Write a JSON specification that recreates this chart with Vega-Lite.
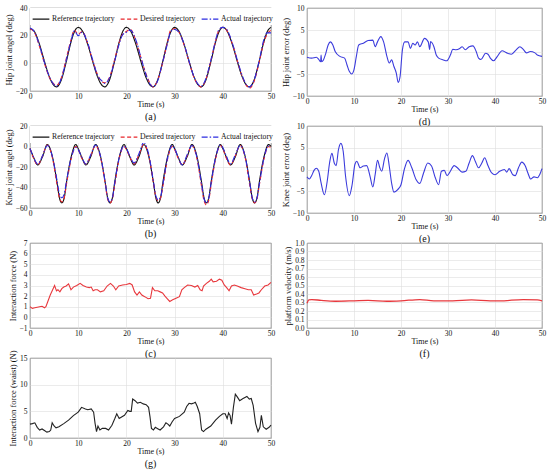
{
  "$schema": "https://vega.github.io/schema/vega-lite/v6.json",
  "padding": {"left": 3, "top": 3, "right": 2, "bottom": 0},
  "datasets": {
    "hip": [
      {"t":0,"r":25,"d":25,"a":25.5},{"t":0.8,"r":23.5,"d":23,"a":23.5},{"t":2,"r":13.4,"d":12,"a":12.5},{"t":3,"r":1.4,"d":0,"a":0.5},{"t":4,"r":-9.6,"d":-10,"a":-9.5},{"t":5,"r":-16.1,"d":-15,"a":-15.5},{"t":5.5,"r":-17,"d":-16,"a":-16.5},{"t":6.5,"r":-12,"d":-10.5,"a":-11},{"t":7.5,"r":0.8,"d":3,"a":2},{"t":8.5,"r":15.3,"d":17,"a":16},{"t":9.2,"r":22.7,"d":24,"a":23.5},
      {"t":10,"r":26,"d":21,"a":20},{"t":10.8,"r":23.8,"d":23,"a":22.5},{"t":12,"r":13.4,"d":14,"a":14.5},{"t":13,"r":1.4,"d":2,"a":2.5},{"t":14,"r":-9.6,"d":-8,"a":-8.5},{"t":15,"r":-16.1,"d":-13.5,"a":-13},{"t":15.5,"r":-17,"d":-14,"a":-14.5},{"t":16.5,"r":-12,"d":-10,"a":-10.5},{"t":17.5,"r":0.8,"d":2,"a":1},{"t":18.5,"r":15.3,"d":15,"a":14},{"t":19.2,"r":22.7,"d":21,"a":20.5},
      {"t":20,"r":26,"d":23,"a":22.5},{"t":20.8,"r":23.8,"d":24.5,"a":24},{"t":22,"r":13.4,"d":16,"a":16.5},{"t":23,"r":1.4,"d":4,"a":4.5},{"t":24,"r":-9.6,"d":-7,"a":-7.5},{"t":25,"r":-16.1,"d":-15,"a":-15.5},{"t":25.5,"r":-17,"d":-17,"a":-17},{"t":26.5,"r":-12,"d":-12,"a":-12.5},{"t":27.5,"r":0.8,"d":0,"a":0.5},{"t":28.5,"r":15.3,"d":15,"a":14},{"t":29.2,"r":22.7,"d":24,"a":23},
      {"t":30,"r":26,"d":25,"a":24.5},{"t":30.8,"r":23.8,"d":23,"a":23},{"t":32,"r":13.4,"d":13,"a":13.5},{"t":33,"r":1.4,"d":1,"a":1.5},{"t":34,"r":-9.6,"d":-10,"a":-9.5},{"t":35,"r":-16.1,"d":-16,"a":-15.5},{"t":35.5,"r":-17,"d":-17,"a":-16.5},{"t":36.5,"r":-12,"d":-11.5,"a":-11},{"t":37.5,"r":0.8,"d":1.5,"a":2},{"t":38.5,"r":15.3,"d":16,"a":16.5},{"t":39.2,"r":22.7,"d":24,"a":24.5},
      {"t":40,"r":26,"d":26,"a":26},{"t":40.8,"r":23.8,"d":24,"a":24.5},{"t":42,"r":13.4,"d":14,"a":14.5},{"t":43,"r":1.4,"d":2,"a":2.5},{"t":44,"r":-9.6,"d":-9,"a":-8.5},{"t":45,"r":-16.1,"d":-16.5,"a":-16},{"t":45.5,"r":-17,"d":-18,"a":-17},{"t":46.5,"r":-12,"d":-13,"a":-12},{"t":47.5,"r":0.8,"d":0,"a":1},{"t":48.5,"r":15.3,"d":15,"a":17},{"t":49.2,"r":22.7,"d":21,"a":22},{"t":50,"r":26,"d":24,"a":22}
    ],
    "knee": [
      {"t":0,"r":-2,"d":-2,"a":-2},{"t":0.7,"r":-10,"d":-11,"a":-10},{"t":1.6,"r":-18,"d":-18,"a":-17},{"t":2.6,"r":-10,"d":-9,"a":-9},{"t":3.6,"r":2,"d":1.5,"a":1},{"t":4.6,"r":-9,"d":-10,"a":-9},{"t":5.6,"r":-35,"d":-37,"a":-33},{"t":6.1,"r":-50,"d":-50,"a":-46},{"t":6.6,"r":-55,"d":-54,"a":-50},{"t":7.1,"r":-50,"d":-50,"a":-46},{"t":7.6,"r":-34,"d":-36,"a":-33},{"t":8.6,"r":-9,"d":-11,"a":-10},{"t":9.5,"r":2,"d":0,"a":-1},
      {"t":10,"r":-2,"d":-3,"a":-3},{"t":10.7,"r":-10,"d":-11,"a":-10},{"t":11.6,"r":-18,"d":-17,"a":-17},{"t":12.6,"r":-10,"d":-9,"a":-8},{"t":13.6,"r":2,"d":1,"a":1.5},{"t":14.6,"r":-9,"d":-10,"a":-9},{"t":15.6,"r":-35,"d":-36,"a":-35},{"t":16.1,"r":-50,"d":-51,"a":-50},{"t":16.6,"r":-55,"d":-55,"a":-54},{"t":17.1,"r":-50,"d":-51,"a":-50},{"t":17.6,"r":-34,"d":-37,"a":-35},{"t":18.6,"r":-9,"d":-10,"a":-9},{"t":19.5,"r":2,"d":0,"a":0.5},
      {"t":20,"r":-2,"d":-3,"a":-2},{"t":20.7,"r":-10,"d":-10,"a":-9},{"t":21.6,"r":-18,"d":-17,"a":-16},{"t":22.6,"r":-10,"d":-8,"a":-7},{"t":23.6,"r":2,"d":2,"a":4},{"t":24.6,"r":-9,"d":-8,"a":-7},{"t":25.6,"r":-35,"d":-35,"a":-34},{"t":26.1,"r":-50,"d":-49,"a":-48},{"t":26.6,"r":-55,"d":-53,"a":-52},{"t":27.1,"r":-50,"d":-50,"a":-49},{"t":27.6,"r":-34,"d":-38,"a":-36},{"t":28.6,"r":-9,"d":-11,"a":-10},{"t":29.5,"r":2,"d":0,"a":1},
      {"t":30,"r":-2,"d":-3,"a":-2},{"t":30.7,"r":-10,"d":-11,"a":-10},{"t":31.6,"r":-18,"d":-18,"a":-18},{"t":32.6,"r":-10,"d":-9,"a":-8},{"t":33.6,"r":2,"d":1,"a":1},{"t":34.6,"r":-9,"d":-11,"a":-10},{"t":35.6,"r":-35,"d":-39,"a":-37},{"t":36.1,"r":-50,"d":-53,"a":-51},{"t":36.6,"r":-55,"d":-57,"a":-55},{"t":37.1,"r":-50,"d":-52,"a":-50},{"t":37.6,"r":-34,"d":-37,"a":-35},{"t":38.6,"r":-9,"d":-10,"a":-9},{"t":39.5,"r":2,"d":1,"a":1.5},
      {"t":40,"r":-2,"d":-2,"a":-1},{"t":40.7,"r":-10,"d":-11,"a":-9},{"t":41.6,"r":-18,"d":-18,"a":-17},{"t":42.6,"r":-10,"d":-9,"a":-8},{"t":43.6,"r":2,"d":1,"a":1},{"t":44.6,"r":-9,"d":-10,"a":-9},{"t":45.6,"r":-35,"d":-38,"a":-36},{"t":46.1,"r":-50,"d":-51,"a":-50},{"t":46.6,"r":-55,"d":-55,"a":-54},{"t":47.1,"r":-50,"d":-51,"a":-50},{"t":47.6,"r":-34,"d":-37,"a":-36},{"t":48.6,"r":-9,"d":-11,"a":-10},{"t":49.5,"r":2,"d":0,"a":0.5},{"t":50,"r":0,"d":-1,"a":0}
    ],
    "force": [
      {"t":0,"v":1.0},{"t":0.5,"v":0.85},{"t":1,"v":0.9},{"t":2,"v":1.0},{"t":2.5,"v":1.05},{"t":3,"v":0.9},{"t":3.3,"v":1.0},{"t":3.7,"v":1.5},{"t":4.2,"v":2.1},{"t":4.7,"v":2.6},{"t":5.1,"v":3.0},{"t":5.5,"v":2.5},{"t":5.8,"v":2.6},{"t":6.2,"v":2.4},{"t":6.6,"v":2.7},{"t":7,"v":2.85},{"t":7.5,"v":2.95},{"t":8,"v":3.15},{"t":8.5,"v":2.6},{"t":9,"v":2.85},{"t":9.7,"v":3.0},{"t":10.4,"v":3.2},{"t":11,"v":3.0},{"t":11.7,"v":2.85},{"t":12.3,"v":2.8},{"t":12.7,"v":2.85},{"t":13.1,"v":2.5},{"t":13.5,"v":2.6},{"t":14,"v":2.6},{"t":14.6,"v":2.4},{"t":15.3,"v":2.5},{"t":16,"v":2.95},{"t":16.7,"v":3.2},{"t":17.3,"v":2.95},{"t":17.8,"v":2.6},{"t":18.4,"v":2.95},{"t":19.2,"v":3.05},{"t":20,"v":3.1},{"t":20.7,"v":3.2},{"t":21.2,"v":3.05},{"t":21.7,"v":2.4},{"t":22.2,"v":2.1},{"t":22.7,"v":2.4},{"t":23.2,"v":2.1},{"t":23.8,"v":1.95},{"t":24.5,"v":1.75},{"t":25,"v":1.8},{"t":25.4,"v":2.8},{"t":25.9,"v":2.5},{"t":26.5,"v":2.5},{"t":27,"v":2.4},{"t":27.5,"v":2.3},{"t":28,"v":2.0},{"t":28.5,"v":1.75},{"t":29,"v":1.5},{"t":29.6,"v":1.65},{"t":30.3,"v":1.8},{"t":31,"v":1.95},{"t":31.5,"v":2.6},{"t":32,"v":2.8},{"t":32.7,"v":3.05},{"t":33.5,"v":3.0},{"t":34.2,"v":2.85},{"t":34.8,"v":3.0},{"t":35.3,"v":2.6},{"t":35.7,"v":2.5},{"t":36,"v":2.95},{"t":36.6,"v":3.2},{"t":37.2,"v":3.4},{"t":37.6,"v":3.6},{"t":38,"v":3.35},{"t":38.7,"v":3.4},{"t":39.3,"v":3.6},{"t":39.8,"v":3.5},{"t":40.3,"v":3.05},{"t":40.8,"v":2.8},{"t":41.3,"v":2.5},{"t":41.8,"v":2.95},{"t":42.4,"v":3.05},{"t":43,"v":2.95},{"t":43.8,"v":2.8},{"t":44.6,"v":2.7},{"t":45.3,"v":2.6},{"t":45.9,"v":2.6},{"t":46.4,"v":2.1},{"t":47,"v":2.2},{"t":47.5,"v":2.3},{"t":48,"v":2.6},{"t":48.7,"v":2.95},{"t":49.4,"v":3.05},{"t":50,"v":3.3}
    ],
    "hiperr": [
      {"t":0,"v":-1.2},{"t":1,"v":-1.4},{"t":2,"v":-1.2},{"t":2.5,"v":-1.7},{"t":2.9,"v":-2.2},{"t":3,"v":-0.7},{"t":3.1,"v":-2.2},{"t":3.5,"v":-1.8},{"t":4,"v":-0.3},{"t":4.5,"v":1.6},{"t":5,"v":2.3},{"t":5.5,"v":1.6},{"t":6,"v":0.1},{"t":7,"v":-1.0},{"t":8,"v":-1.4},{"t":8.5,"v":-2.9},{"t":9,"v":-4.4},{"t":9.5,"v":-5.0},{"t":10,"v":-4.0},{"t":10.5,"v":-1.0},{"t":11,"v":1.6},{"t":12,"v":2.0},{"t":13,"v":2.6},{"t":14,"v":2.7},{"t":14.5,"v":1.2},{"t":15,"v":2.3},{"t":15.7,"v":3.5},{"t":16.3,"v":2.3},{"t":17,"v":-1.0},{"t":17.5,"v":-2.5},{"t":18,"v":-1.8},{"t":18.5,"v":-3.3},{"t":19,"v":-4.8},{"t":19.4,"v":-6.9},{"t":19.8,"v":-5.6},{"t":20.3,"v":0.5},{"t":20.8,"v":2.3},{"t":21.5,"v":2.3},{"t":22,"v":0.8},{"t":22.5,"v":2.0},{"t":23,"v":1.6},{"t":23.5,"v":2.3},{"t":24,"v":1.2},{"t":25,"v":3.1},{"t":25.8,"v":2.3},{"t":26.1,"v":0.6},{"t":26.3,"v":2.4},{"t":26.6,"v":2.1},{"t":27,"v":1.2},{"t":27.5,"v":-0.7},{"t":28,"v":-1.4},{"t":29,"v":-1.8},{"t":29.7,"v":-2.0},{"t":30.5,"v":-0.7},{"t":31,"v":0.6},{"t":31.7,"v":0.5},{"t":32.5,"v":0.8},{"t":33,"v":1.2},{"t":33.7,"v":0.5},{"t":34.5,"v":1.2},{"t":35.3,"v":1.4},{"t":36,"v":0.1},{"t":36.5,"v":-1.4},{"t":37,"v":-1.7},{"t":38,"v":-0.3},{"t":38.5,"v":-0.5},{"t":39,"v":-1.4},{"t":39.7,"v":-2.0},{"t":40.5,"v":-1.0},{"t":41.5,"v":0.3},{"t":42.5,"v":-0.2},{"t":43.5,"v":-0.5},{"t":44.5,"v":0.5},{"t":45.3,"v":1.2},{"t":46,"v":0.6},{"t":46.7,"v":-0.2},{"t":47.5,"v":0.1},{"t":48.5,"v":-0.2},{"t":49,"v":-0.7},{"t":50,"v":-1.0}
    ],
    "kneeerr": [
      {"t":0,"v":-1.7},{"t":0.5,"v":-2.2},{"t":1,"v":-1.4},{"t":1.5,"v":-0.2},{"t":2,"v":0.3},{"t":2.5,"v":-0.4},{"t":3,"v":-3.1},{"t":3.7,"v":-5.8},{"t":4.3,"v":-2.7},{"t":4.8,"v":1.5},{"t":5.3,"v":3.7},{"t":5.8,"v":1.5},{"t":6.2,"v":0.9},{"t":6.7,"v":4.6},{"t":7.2,"v":6.0},{"t":7.7,"v":4.2},{"t":8.2,"v":-1.5},{"t":9,"v":-6.0},{"t":9.6,"v":-3.5},{"t":10.2,"v":1.2},{"t":10.6,"v":1.9},{"t":11.3,"v":0.4},{"t":12,"v":0.8},{"t":12.7,"v":0.9},{"t":13.4,"v":-1.5},{"t":14,"v":-4.0},{"t":14.5,"v":-1.2},{"t":15,"v":2.1},{"t":15.5,"v":0.4},{"t":15.9,"v":-0.4},{"t":16.5,"v":2.5},{"t":17,"v":3.8},{"t":17.5,"v":0.8},{"t":18,"v":-3.1},{"t":18.5,"v":-5.2},{"t":19.3,"v":-4.6},{"t":20,"v":-3.5},{"t":20.7,"v":0},{"t":21.5,"v":2.1},{"t":22.3,"v":0.4},{"t":23.2,"v":-2.3},{"t":24,"v":-3.2},{"t":24.8,"v":-0.8},{"t":25.7,"v":1.5},{"t":26.5,"v":0.8},{"t":27.3,"v":-1.9},{"t":28,"v":-3.5},{"t":28.6,"v":-0.4},{"t":29.2,"v":-0.2},{"t":29.8,"v":-1.4},{"t":30.5,"v":-0.4},{"t":31.3,"v":0.9},{"t":32,"v":0.4},{"t":33,"v":-0.6},{"t":33.8,"v":-0.4},{"t":34.5,"v":1.5},{"t":35.2,"v":3.2},{"t":35.8,"v":1.9},{"t":36.5,"v":0.4},{"t":37.2,"v":1.5},{"t":37.8,"v":2.7},{"t":38.5,"v":0.9},{"t":39.3,"v":-0.8},{"t":40,"v":-1.2},{"t":41,"v":-0.4},{"t":42,"v":0},{"t":42.5,"v":-0.6},{"t":43,"v":0.2},{"t":43.8,"v":-1.2},{"t":44.3,"v":-1.4},{"t":45,"v":0.4},{"t":45.7,"v":1.7},{"t":46.4,"v":0.9},{"t":47,"v":-0.8},{"t":47.6,"v":-2.2},{"t":48.3,"v":-1.7},{"t":49,"v":-1.9},{"t":49.5,"v":-1.2},{"t":50,"v":0.2}
    ],
    "vel": [
      {"t":0,"v":0.29},{"t":0.4,"v":0.33},{"t":1,"v":0.335},{"t":3,"v":0.325},{"t":6,"v":0.315},{"t":10,"v":0.32},{"t":13,"v":0.325},{"t":17,"v":0.315},{"t":20,"v":0.32},{"t":24,"v":0.335},{"t":27,"v":0.32},{"t":31,"v":0.32},{"t":35,"v":0.33},{"t":39,"v":0.32},{"t":41,"v":0.32},{"t":46,"v":0.335},{"t":49,"v":0.33},{"t":50,"v":0.32}
    ],
    "waist": [
      {"t":0,"v":2.6},{"t":0.5,"v":2.7},{"t":1,"v":2.85},{"t":1.5,"v":2.0},{"t":2,"v":1.5},{"t":2.5,"v":1.7},{"t":3,"v":1.4},{"t":3.5,"v":1.1},{"t":4,"v":1.2},{"t":4.3,"v":1.5},{"t":4.6,"v":2.85},{"t":5,"v":2.25},{"t":5.4,"v":1.9},{"t":6,"v":2.1},{"t":7,"v":2.7},{"t":8,"v":3.35},{"t":9,"v":4.2},{"t":10,"v":4.85},{"t":10.7,"v":5.75},{"t":11.5,"v":5.45},{"t":12,"v":5.3},{"t":12.7,"v":5.45},{"t":13.2,"v":4.85},{"t":13.5,"v":2.75},{"t":13.8,"v":1.2},{"t":14.1,"v":2.25},{"t":14.5,"v":1.5},{"t":15,"v":1.8},{"t":15.7,"v":1.8},{"t":16.3,"v":1.5},{"t":17,"v":2.4},{"t":17.6,"v":3.65},{"t":18,"v":4.55},{"t":18.5,"v":3.65},{"t":19,"v":3.95},{"t":19.6,"v":4.25},{"t":20.3,"v":5.15},{"t":20.7,"v":5.0},{"t":21,"v":5.0},{"t":21.3,"v":7.3},{"t":21.8,"v":7.0},{"t":22.3,"v":6.55},{"t":22.9,"v":6.7},{"t":23.5,"v":6.4},{"t":24.1,"v":6.25},{"t":24.6,"v":5.75},{"t":24.9,"v":3.95},{"t":25.2,"v":1.8},{"t":25.6,"v":1.5},{"t":26,"v":2.0},{"t":26.5,"v":1.75},{"t":27,"v":1.5},{"t":27.7,"v":2.1},{"t":28.2,"v":2.85},{"t":28.6,"v":2.6},{"t":29,"v":2.25},{"t":29.5,"v":3.05},{"t":30,"v":3.65},{"t":31,"v":4.05},{"t":32,"v":4.85},{"t":32.5,"v":5.9},{"t":33,"v":6.5},{"t":33.5,"v":6.4},{"t":34,"v":6.55},{"t":34.3,"v":6.7},{"t":34.7,"v":5.9},{"t":35.2,"v":4.55},{"t":35.6,"v":1.5},{"t":36,"v":1.2},{"t":36.5,"v":1.65},{"t":37.5,"v":2.25},{"t":38.5,"v":3.35},{"t":39.3,"v":4.05},{"t":40,"v":4.55},{"t":40.5,"v":4.55},{"t":40.9,"v":3.65},{"t":41.2,"v":4.7},{"t":41.5,"v":4.25},{"t":41.8,"v":2.6},{"t":42.2,"v":5.75},{"t":42.6,"v":8.2},{"t":43,"v":7.7},{"t":43.5,"v":7.0},{"t":44.2,"v":7.4},{"t":45,"v":7.8},{"t":45.5,"v":7.3},{"t":45.9,"v":7.4},{"t":46.3,"v":6.1},{"t":46.8,"v":2.75},{"t":47.3,"v":1.2},{"t":47.7,"v":2.0},{"t":48,"v":4.25},{"t":48.4,"v":2.1},{"t":49,"v":1.65},{"t":49.6,"v":2.0},{"t":50,"v":2.4}
    ]
  },
  "columns": 2,
  "bounds": "flush",
  "spacing": {"row": 30, "column": 36},
  "concat": [
    {
      "width": 241, "height": 83,
      "data": {"name": "hip"},
      "title": {"text": "(a)"},
      "transform": [{"fold": ["r", "d", "a"], "as": ["k", "v"]}],
      "mark": {"type": "line", "interpolate": "monotone", "strokeWidth": 1.1},
      "encoding": {
        "x": {"field": "t", "type": "quantitative", "scale": {"domain": [0, 50]}, "axis": {"title": "Time (s)", "values": [0, 10, 20, 30, 40, 50]}},
        "y": {"field": "v", "type": "quantitative", "scale": {"domain": [-20, 40]}, "axis": {"title": "Hip joint angel (deg)", "values": [-20, 0, 20, 40]}},
        "color": {"field": "k", "type": "nominal", "scale": {"domain": ["r", "d", "a"], "range": ["#111111", "#e8262b", "#2c2ce0"]},
          "legend": {"labelExpr": "datum.value == 'r' ? 'Reference trajectory' : datum.value == 'd' ? 'Desired trajectory' : 'Actual trajectory'"}},
        "strokeDash": {"field": "k", "type": "nominal", "scale": {"domain": ["r", "d", "a"], "range": [[1, 0], [4, 2.5], [6, 2, 1.5, 2]]},
          "legend": {"labelExpr": "datum.value == 'r' ? 'Reference trajectory' : datum.value == 'd' ? 'Desired trajectory' : 'Actual trajectory'"}}
      }
    },
    {
      "width": 235, "height": 88,
      "data": {"name": "hiperr"},
      "title": {"text": "(d)"},
      "mark": {"type": "line", "color": "#3b3bdc", "strokeWidth": 1.1, "interpolate": "monotone"},
      "encoding": {
        "x": {"field": "t", "type": "quantitative", "scale": {"domain": [0, 50]}, "axis": {"title": "Time (s)", "values": [0, 10, 20, 30, 40, 50]}},
        "y": {"field": "v", "type": "quantitative", "scale": {"domain": [-10, 10]}, "axis": {"title": "Hip joint error (deg)", "values": [-10, -5, 0, 5, 10]}}
      }
    },
    {
      "width": 241, "height": 82,
      "data": {"name": "knee"},
      "title": {"text": "(b)"},
      "transform": [{"fold": ["r", "d", "a"], "as": ["k", "v"]}],
      "mark": {"type": "line", "interpolate": "monotone", "strokeWidth": 1.1},
      "encoding": {
        "x": {"field": "t", "type": "quantitative", "scale": {"domain": [0, 50]}, "axis": {"title": "Time (s)", "values": [0, 10, 20, 30, 40, 50]}},
        "y": {"field": "v", "type": "quantitative", "scale": {"domain": [-60, 20]}, "axis": {"title": "Knee joint angel (deg)", "values": [-60, -40, -20, 0, 20]}},
        "color": {"field": "k", "type": "nominal", "scale": {"domain": ["r", "d", "a"], "range": ["#111111", "#e8262b", "#2c2ce0"]},
          "legend": {"labelExpr": "datum.value == 'r' ? 'Reference trajectory' : datum.value == 'd' ? 'Desired trajectory' : 'Actual trajectory'"}},
        "strokeDash": {"field": "k", "type": "nominal", "scale": {"domain": ["r", "d", "a"], "range": [[1, 0], [4, 2.5], [6, 2, 1.5, 2]]},
          "legend": {"labelExpr": "datum.value == 'r' ? 'Reference trajectory' : datum.value == 'd' ? 'Desired trajectory' : 'Actual trajectory'"}}
      }
    },
    {
      "width": 235, "height": 87,
      "data": {"name": "kneeerr"},
      "title": {"text": "(e)"},
      "mark": {"type": "line", "color": "#3b3bdc", "strokeWidth": 1.1, "interpolate": "monotone"},
      "encoding": {
        "x": {"field": "t", "type": "quantitative", "scale": {"domain": [0, 50]}, "axis": {"title": "Time (s)", "values": [0, 10, 20, 30, 40, 50]}},
        "y": {"field": "v", "type": "quantitative", "scale": {"domain": [-10, 10]}, "axis": {"title": "Knee joint error (deg)", "values": [-10, -5, 0, 5, 10]}}
      }
    },
    {
      "width": 241, "height": 85,
      "data": {"name": "force"},
      "title": {"text": "(c)"},
      "mark": {"type": "line", "color": "#e8383d", "strokeWidth": 1.1},
      "encoding": {
        "x": {"field": "t", "type": "quantitative", "scale": {"domain": [0, 50]}, "axis": {"title": "Time (s)", "values": [0, 10, 20, 30, 40, 50]}},
        "y": {"field": "v", "type": "quantitative", "scale": {"domain": [-1, 7]}, "axis": {"title": "Interaction force (N)", "values": [-1, 0, 1, 2, 3, 4, 5, 6, 7]}}
      }
    },
    {
      "width": 235, "height": 85,
      "data": {"name": "vel"},
      "title": {"text": "(f)"},
      "mark": {"type": "line", "color": "#e8383d", "strokeWidth": 1.3, "interpolate": "monotone"},
      "encoding": {
        "x": {"field": "t", "type": "quantitative", "scale": {"domain": [0, 50]}, "axis": {"title": "Time (s)", "values": [0, 10, 20, 30, 40, 50]}},
        "y": {"field": "v", "type": "quantitative", "scale": {"domain": [0, 1]}, "axis": {"title": "platform velocity (m/s)", "values": [0, 0.1, 0.2, 0.3, 0.4, 0.5, 0.6, 0.7, 0.8, 0.9, 1], "format": ".1f"}}
      }
    },
    {
      "width": 241, "height": 80,
      "data": {"name": "waist"},
      "title": {"text": "(g)"},
      "mark": {"type": "line", "color": "#222222", "strokeWidth": 1.1},
      "encoding": {
        "x": {"field": "t", "type": "quantitative", "scale": {"domain": [0, 50]}, "axis": {"title": "Time (s)", "values": [0, 10, 20, 30, 40, 50]}},
        "y": {"field": "v", "type": "quantitative", "scale": {"domain": [0, 15]}, "axis": {"title": "Interaction force (waist) (N)", "values": [0, 5, 10, 15]}}
      }
    }
  ],
  "resolve": {"scale": {"color": "independent", "strokeDash": "independent"}},
  "config": {
    "font": "Liberation Serif",
    "view": {"stroke": "#3a3a3a", "strokeWidth": 0.8},
    "axis": {
      "labelFont": "Liberation Serif", "titleFont": "Liberation Serif",
      "labelFontSize": 7.5, "titleFontSize": 8.5, "titleFontWeight": "normal",
      "labelColor": "#111111", "titleColor": "#111111",
      "gridColor": "#dedede", "gridWidth": 0.6,
      "domain": false, "ticks": false, "labelOverlap": false,
      "labelPadding": 1, "titlePadding": 0.5
    },
    "axisX": {"labelFlush": false, "titleFontSize": 8},
    "axisY": {"labelPadding": 3, "titlePadding": 2},
    "title": {"font": "Liberation Serif", "fontSize": 10, "fontWeight": "normal", "orient": "bottom", "anchor": "middle", "offset": 0, "color": "#111111"},
    "legend": {
      "title": null, "orient": "top-left", "direction": "horizontal", "offset": 0,
      "padding": 2, "fillColor": "white",
      "symbolType": "stroke", "symbolSize": 280, "symbolStrokeWidth": 1.1,
      "labelFont": "Liberation Serif", "labelFontSize": 7.7, "labelColor": "#111111",
      "labelOffset": 2, "columnPadding": 3, "labelLimit": 0
    }
  }
}
